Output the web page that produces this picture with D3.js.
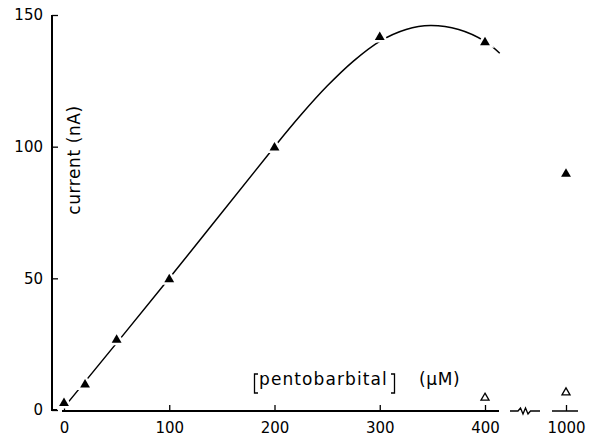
<!DOCTYPE html>
<html>
<head>
<meta charset="utf-8">
<script src="https://cdn.jsdelivr.net/npm/d3@7"></script>
<style>
  body { margin: 0; background: #fff; }
  text { font-family: "DejaVu Sans", sans-serif; fill: #000; }
</style>
</head>
<body>
<div id="chart"></div>
<script>
// pentobarbital concentration (uM) and current (nA)
const concFilled = [0, 20, 50, 100, 200, 300, 400, 1000];
const currentFilled = [3, 10, 27, 50, 100, 142, 140, 90];
const concOpen = [400, 1000];
const currentOpen = [5, 7];

// hand-drawn fit through the filled points
const fitConc = [0, 100, 200, 225, 250, 275, 300, 325, 348, 375, 400, 414];
const fitCurrent = [1, 50, 100, 112, 123, 132.5, 140, 144.5, 146, 144.5, 140, 135.5];

const xTicks = [0, 100, 200, 300, 400];
const yTicks = [0, 50, 100, 150];

const width = 594, height = 440;

const svg = d3.select("#chart")
  .append("svg")
  .attr("width", width)
  .attr("height", height);

// main scale up to 400, separate stub for 1000 past the axis break
const x = d3.scaleLinear().domain([0, 400]).range([64, 485]);
const xFar = d3.scaleLinear().domain([900, 1100]).range([545, 587]);
const xPos = v => v > 500 ? xFar(v) : x(v);
const y = d3.scaleLinear().domain([0, 150]).range([410, 15]);

// y axis
const yAxis = svg.append("g")
  .attr("transform", "translate(52,0)")
  .call(d3.axisLeft(y).tickValues(yTicks).tickSizeInner(-6).tickSizeOuter(0).tickPadding(9));
yAxis.select(".domain").remove();
yAxis.selectAll(".tick line").attr("stroke-width", 1.3);
yAxis.selectAll(".tick text").style("font-size", "15px");
svg.append("path")
  .attr("d", `M52,${y(150)}V${y(0)}H57`)
  .attr("fill", "none").attr("stroke", "#000").attr("stroke-width", 2);

// x axis
const ay = y(0) + 1;
const xAxis = svg.append("g")
  .attr("transform", `translate(0,${ay})`)
  .call(d3.axisBottom(x).tickValues(xTicks).tickSizeInner(-6).tickSizeOuter(0).tickPadding(11));
xAxis.select(".domain").remove();
xAxis.selectAll(".tick line").attr("stroke-width", 1.3);
xAxis.selectAll(".tick text").style("font-size", "15px");

const xFarAxis = svg.append("g")
  .attr("transform", `translate(0,${ay})`)
  .call(d3.axisBottom(xFar).tickValues([1000]).tickFormat(d3.format("d"))
    .tickSizeInner(-6).tickSizeOuter(0).tickPadding(11));
xFarAxis.select(".domain").remove();
xFarAxis.selectAll(".tick line").attr("stroke-width", 1.3);
xFarAxis.selectAll(".tick text").style("font-size", "15px");

svg.append("path")
  .attr("d", `M62,${ay}H499`)
  .attr("fill", "none").attr("stroke", "#000").attr("stroke-width", 2);
svg.append("path")
  .attr("d", `M552,${ay}H578`)
  .attr("fill", "none").attr("stroke", "#000").attr("stroke-width", 1.5);
// break symbol
svg.append("path")
  .attr("d", `M510,${ay}H518l2.5,-3l2.5,6l2.5,-6l2.5,6l2.5,-3H540`)
  .attr("fill", "none").attr("stroke", "#000").attr("stroke-width", 1.3);

// fitted curve
const fit = fitConc.map((c, i) => ({ c: c, v: fitCurrent[i] }));
svg.append("path")
  .datum(fit)
  .attr("fill", "none")
  .attr("stroke", "#000")
  .attr("stroke-width", 1.5)
  .attr("d", d3.line().x(d => x(d.c)).y(d => y(d.v)).curve(d3.curveCatmullRom.alpha(0.5)));

// filled triangles with a white halo to break the curve
svg.selectAll(".filled")
  .data(concFilled.map((c, i) => ({ c: c, v: currentFilled[i] })))
  .enter().append("path")
  .attr("class", "filled")
  .attr("transform", d => `translate(${xPos(d.c)},${y(d.v) + 1})`)
  .attr("d", d3.symbol().type(d3.symbolTriangle).size(42))
  .attr("fill", "#000")
  .attr("stroke", "#fff")
  .attr("stroke-width", 5)
  .attr("paint-order", "stroke");

svg.selectAll(".open")
  .data(concOpen.map((c, i) => ({ c: c, v: currentOpen[i] })))
  .enter().append("path")
  .attr("class", "open")
  .attr("transform", d => `translate(${xPos(d.c)},${y(d.v) + 1})`)
  .attr("d", d3.symbol().type(d3.symbolTriangle).size(28))
  .attr("fill", "#fff")
  .attr("stroke", "#000")
  .attr("stroke-width", 1.3);

// axis labels
svg.append("text")
  .attr("transform", "translate(80,160) rotate(-90)")
  .attr("text-anchor", "middle")
  .style("font-size", "17px")
  .style("letter-spacing", "0.6px")
  .text("current  (nA)");

const lab = svg.append("g").attr("transform", "translate(0,385)");
lab.append("path")
  .attr("d", "M258,-11H254.5V8H258")
  .attr("fill", "none").attr("stroke", "#000").attr("stroke-width", 1.3);
lab.append("text")
  .attr("x", 259)
  .style("font-size", "17px")
  .style("letter-spacing", "1.1px")
  .text("pentobarbital");
lab.append("path")
  .attr("d", "M391,-11H394.5V8H391")
  .attr("fill", "none").attr("stroke", "#000").attr("stroke-width", 1.3);
lab.append("text")
  .attr("x", 419)
  .style("font-size", "17px")
  .style("letter-spacing", "0.6px")
  .text("(µM)");
</script>
</body>
</html>
